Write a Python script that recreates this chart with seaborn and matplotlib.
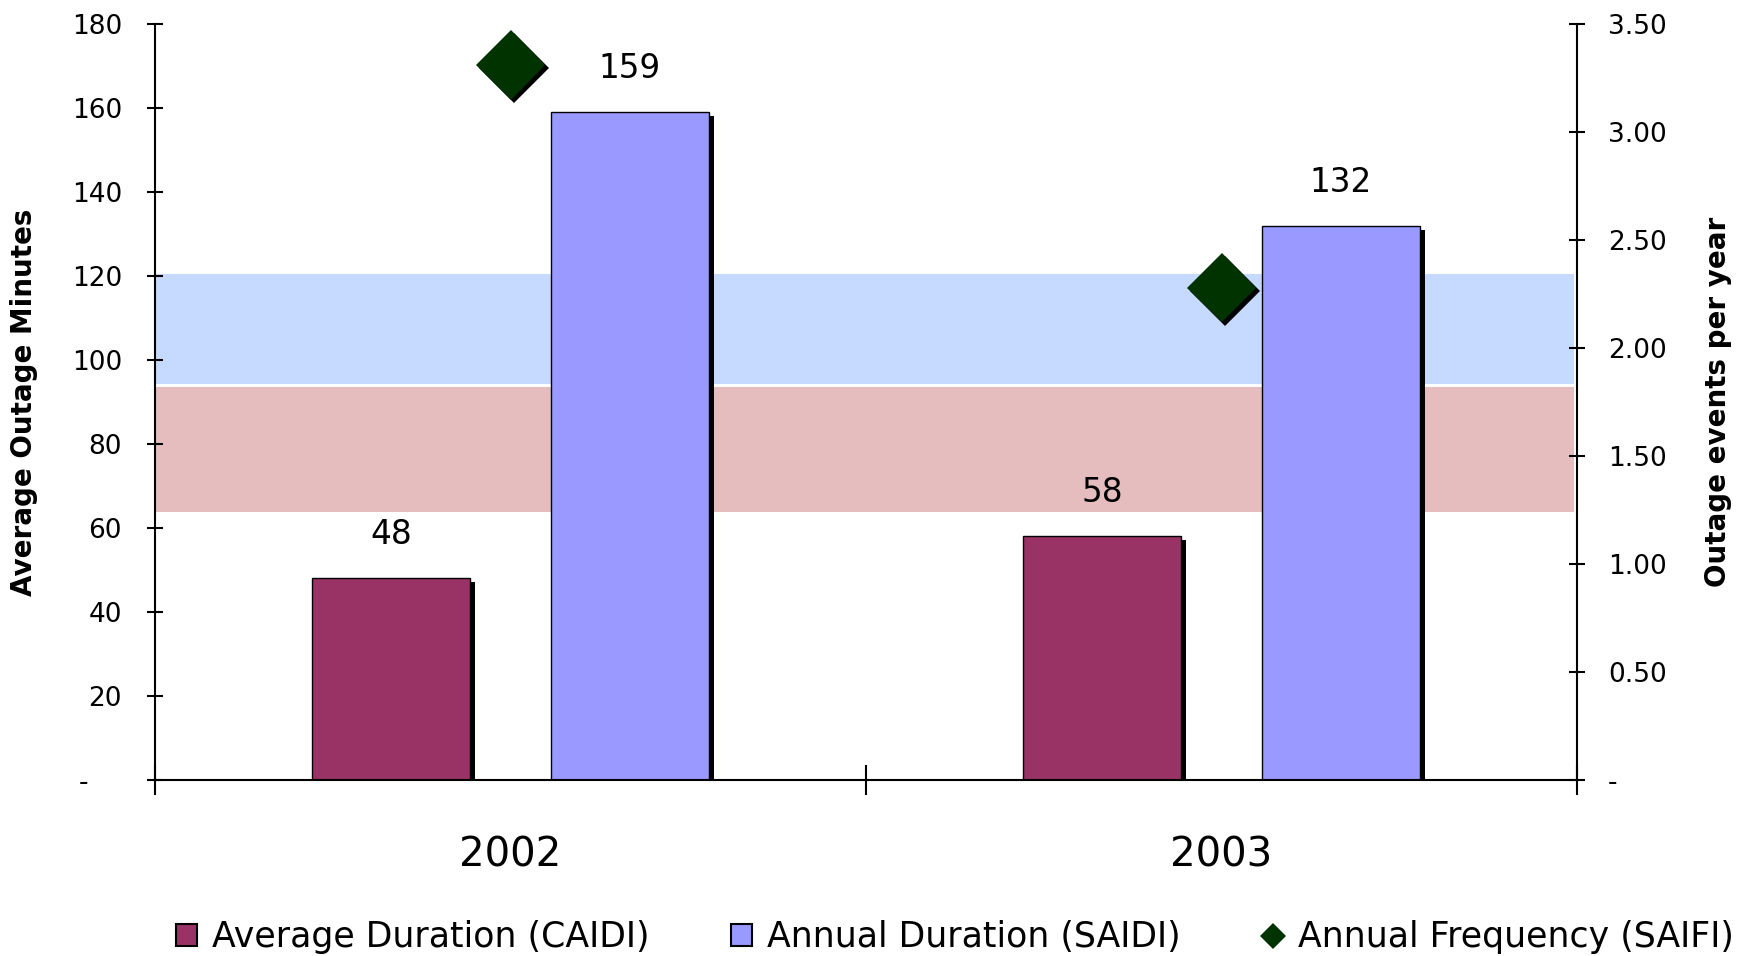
import matplotlib
matplotlib.use("Agg")
import matplotlib.pyplot as plt
import matplotlib.patheffects as pe
from matplotlib.patches import Patch
from matplotlib.lines import Line2D
from matplotlib.ticker import FuncFormatter
import seaborn as sns
import pandas as pd

# ---- data ----
years = ["2002", "2003"]
caidi = [48, 58]          # Average Duration (minutes)
saidi = [159, 132]        # Annual Duration (minutes)
saifi = [3.31, 2.28]      # Annual Frequency (events per year)
series_names = ["Average Duration (CAIDI)", "Annual Duration (SAIDI)",
                "Annual Frequency (SAIFI)"]
saidi_band = [94.2, 120.4]   # shaded range, minutes
caidi_band = [63.7, 93.5]    # shaded range, minutes
left_ticks = [0, 20, 40, 60, 80, 100, 120, 140, 160, 180]
right_ticks = [0, 0.5, 1.0, 1.5, 2.0, 2.5, 3.0, 3.5]

col_caidi = "#993366"
col_saidi = "#9999FF"
col_saifi = "#003300"

sns.set_theme(style="white")
plt.rcParams['font.family'] = ['DejaVu Sans']
plt.rcParams.update({"text.color": "black", "axes.labelcolor": "black",
                     "xtick.color": "black", "ytick.color": "black"})

df = pd.DataFrame({
    "Year": years * 2,
    "Minutes": caidi + saidi,
    "Metric": [series_names[0]] * len(years) + [series_names[1]] * len(years),
})

fig = plt.figure(figsize=(17.37, 9.56), dpi=100)
ax = fig.add_axes([0.08924, 0.18410, 0.81865, 0.79079])

# benchmark bands
ax.axhspan(saidi_band[0], saidi_band[1], xmin=0.0, xmax=0.998,
           facecolor="#C6D9FF", lw=0, zorder=0)
ax.axhspan(caidi_band[0], caidi_band[1], xmin=0.0, xmax=0.998,
           facecolor="#E5BDBF", lw=0, zorder=0)

sns.barplot(data=df, x="Year", y="Minutes", hue="Metric",
            palette=[col_caidi, col_saidi], width=0.67, gap=0.337,
            edgecolor="black", linewidth=1.0, ax=ax, legend=False,
            zorder=2, saturation=1)

bar_shadow = [pe.SimplePatchShadow(offset=(3.6, -2.9), shadow_rgbFace="black",
                                   alpha=1.0), pe.Normal()]
for cont in ax.containers:
    for p in cont:
        p.set_path_effects(bar_shadow)
    ax.bar_label(cont, fmt="%d", padding=19.5, fontsize=23.5, color="black")

ax.set_ylim(0, 180)
ax.set_yticks(left_ticks)
ax.yaxis.set_major_formatter(FuncFormatter(
    lambda v, _: "-    " if v == 0 else f"{v:.0f}"))
ax.tick_params(axis="y", direction="inout", length=11.5, width=1.5,
               pad=18, labelsize=19, colors="black", left=True)

# secondary axis: frequency
ax2 = ax.twinx()
sns.pointplot(x=years, y=saifi, ax=ax2, color=col_saifi, marker="D",
              linestyle="none", markersize=35.6, markeredgewidth=0,
              errorbar=None)
for ln in ax2.lines:
    ln.set_path_effects([pe.SimplePatchShadow(offset=(2.2, -2.2),
                                              shadow_rgbFace="black",
                                              alpha=1.0), pe.Normal()])
ax2.set_ylim(0, 3.5)
ax2.set_yticks(right_ticks)
ax2.yaxis.set_major_formatter(FuncFormatter(
    lambda v, _: "-" if v == 0 else f"{v:.2f}"))
ax2.tick_params(axis="y", direction="inout", length=11.5, width=1.5,
                pad=16.5, labelsize=19, colors="black", right=True)
ax2.set_ylabel("")

# x axis: category boundaries as ticks, years centred
ax.set_xlim(-0.5, len(years) - 0.5)
ax.set_xticks([i - 0.5 for i in range(len(years) + 1)])
ax.set_xticklabels([""] * (len(years) + 1))
ax.set_xticks(list(range(len(years))), minor=True)
ax.set_xticklabels(years, minor=True)
ax.tick_params(axis="x", which="major", direction="inout", length=21,
               width=1.5, colors="black", bottom=True)
ax.tick_params(axis="x", which="minor", length=0, pad=40, labelsize=29,
               colors="black", bottom=True)
ax.set_xlabel("")

for a in (ax, ax2):
    for s in a.spines.values():
        s.set_visible(False)
ax.spines["left"].set_visible(True)
ax.spines["bottom"].set_visible(True)
ax2.spines["right"].set_visible(True)
for s in (ax.spines["left"], ax.spines["bottom"], ax2.spines["right"]):
    s.set_color("black")
    s.set_linewidth(1.5)

ax.set_ylabel("Average Outage Minutes", fontsize=20, fontweight="bold",
              va="center", color="black")
ax.yaxis.set_label_coords(-0.0921, 0.5)
ax2.set_ylabel("Outage events per year", fontsize=20, fontweight="bold",
               va="center", rotation=90, color="black")
ax2.yaxis.set_label_coords(1.0991, 0.5)

handles = [Patch(facecolor=col_caidi, edgecolor="black", linewidth=1.5),
           Patch(facecolor=col_saidi, edgecolor="black", linewidth=1.5),
           Line2D([], [], marker="D", color=col_saifi, linestyle="none",
                  markersize=13.2, markeredgewidth=0)]
fig.legend(handles, series_names, loc="center", bbox_to_anchor=(0.5498, 0.0195),
           ncol=3, frameon=False, fontsize=25, handlelength=0.6,
           handleheight=0.6, handletextpad=0.42, columnspacing=2.36,
           borderaxespad=0, borderpad=0, labelcolor="black")

fig.savefig("out.png", dpi=100)
